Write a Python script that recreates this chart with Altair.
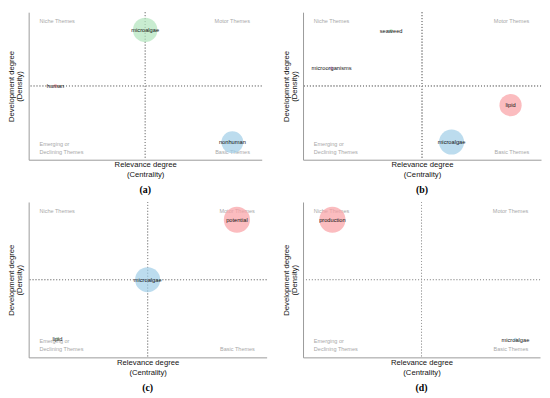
import altair as alt
import pandas as pd

# ---- data ----
a_terms = ["microalgae", "human", "nonhuman"]
a_x = [0.50, 0.115, 0.874]
a_y = [0.88, 0.50, 0.118]
a_freq = [88, 2, 70]
a_cluster = ["green", "red", "blue"]

b_terms = ["seaweed", "microorganisms", "lipid", "microalgae"]
b_x = [0.37, 0.12, 0.872, 0.624]
b_y = [0.874, 0.62, 0.37, 0.12]
b_freq = [2, 2, 72, 92]
b_cluster = ["green", "purple", "red", "blue"]

c_terms = ["potential", "microalgae", "lipid"]
c_x = [0.875, 0.50, 0.121]
c_y = [0.886, 0.50, 0.12]
c_freq = [100, 92, 2]
c_cluster = ["red", "blue", "green"]

d_terms = ["production", "microalgae"]
d_x = [0.124, 0.896]
d_y = [0.886, 0.114]
d_freq = [100, 2]
d_cluster = ["red", "blue"]

quad_labels = ["Niche Themes", "Motor Themes", "Emerging or", "Declining Themes", "Basic Themes"]
quad_side = ["L", "R", "L", "L", "R"]
quad_y = [0.94, 0.94, 0.105, 0.053, 0.053]

cluster_domain = ["green", "blue", "red", "purple"]
cluster_range = ["#b0e4bc", "#9fcde7", "#f9a0a4", "#d79be0"]

FONT = "Liberation Sans"


def panel(terms, xs, ys, freqs, clusters, letter, width, height):
    df = pd.DataFrame({"term": terms, "x": xs, "y": ys, "freq": freqs, "cluster": clusters})
    qdf = pd.DataFrame({"label": quad_labels, "side": quad_side, "qy": quad_y})

    xs_ = alt.Scale(domain=[0, 1], nice=False, zero=False)
    ys_ = alt.Scale(domain=[0, 1], nice=False, zero=False)
    xaxis = alt.Axis(title=["Relevance degree", "(Centrality)"], ticks=False, labels=False,
                     grid=False, domainColor="#9a9a9a", domainWidth=1, titleFont=FONT,
                     titleFontSize=7.8, titleFontWeight="normal", titleColor="#111",
                     titlePadding=1, titleLineHeight=10)
    yaxis = alt.Axis(title=["Development degree", "(Density)"], ticks=False, labels=False,
                     grid=False, domainColor="#9a9a9a", domainWidth=1, titleFont=FONT,
                     titleFontSize=7.8, titleFontWeight="normal", titleColor="#111",
                     titlePadding=5, titleLineHeight=8)

    base = alt.Chart(df)
    circles = base.mark_circle(opacity=0.7).encode(
        x=alt.X("x:Q", scale=xs_, axis=xaxis),
        y=alt.Y("y:Q", scale=ys_, axis=yaxis),
        size=alt.Size("freq:Q", scale=alt.Scale(domain=[0, 100], range=[0, 707], zero=True), legend=None),
        color=alt.Color("cluster:N", scale=alt.Scale(domain=cluster_domain, range=cluster_range), legend=None),
    )
    vrule = base.mark_rule(color="#999999", strokeDash=[1, 2], strokeWidth=0.9).encode(
        x=alt.datum(0.5, scale=xs_, axis=xaxis))
    hrule = base.mark_rule(color="#999999", strokeDash=[1, 2], strokeWidth=0.9).encode(
        y=alt.datum(0.5, scale=ys_, axis=yaxis))
    labels = base.mark_text(font=FONT, fontSize=5.8, color="#111", baseline="middle").encode(
        x=alt.X("x:Q", scale=xs_, axis=xaxis),
        y=alt.Y("y:Q", scale=ys_, axis=yaxis),
        text="term:N",
    )
    qbase = alt.Chart(qdf)
    qleft = qbase.transform_filter(alt.datum.side == "L").mark_text(
        font=FONT, fontSize=5.6, color="#a8a8a8", align="left", baseline="middle", dx=11).encode(
        x=alt.datum(0, scale=xs_, axis=xaxis),
        y=alt.Y("qy:Q", scale=ys_, axis=yaxis),
        text="label:N")
    qright = qbase.transform_filter(alt.datum.side == "R").mark_text(
        font=FONT, fontSize=5.6, color="#a8a8a8", align="right", baseline="middle", dx=-12).encode(
        x=alt.datum(1, scale=xs_, axis=xaxis),
        y=alt.Y("qy:Q", scale=ys_, axis=yaxis),
        text="label:N")

    return alt.layer(vrule, hrule, qleft, qright, circles, labels).properties(
        width=width, height=height,
        title=alt.TitleParams(text=letter, orient="bottom", font="Liberation Serif", fontSize=10,
                              fontWeight="bold", color="#000", offset=7, anchor="middle"),
    )


pa = panel(a_terms, a_x, a_y, a_freq, a_cluster, "(a)", 237, 150)
pb = panel(b_terms, b_x, b_y, b_freq, b_cluster, "(b)", 242, 150)
pc = panel(c_terms, c_x, c_y, c_freq, c_cluster, "(c)", 242, 158)
pd_ = panel(d_terms, d_x, d_y, d_freq, d_cluster, "(d)", 241, 158)

chart = alt.vconcat(
    alt.hconcat(pa, pb, spacing=20),
    alt.hconcat(pc, pd_, spacing=15),
    spacing=6,
).configure_view(stroke=None).properties(padding={"left": 0, "top": 0, "right": 0, "bottom": 0})

chart.save("out.html", embed_options={"renderer": "svg", "actions": False})
